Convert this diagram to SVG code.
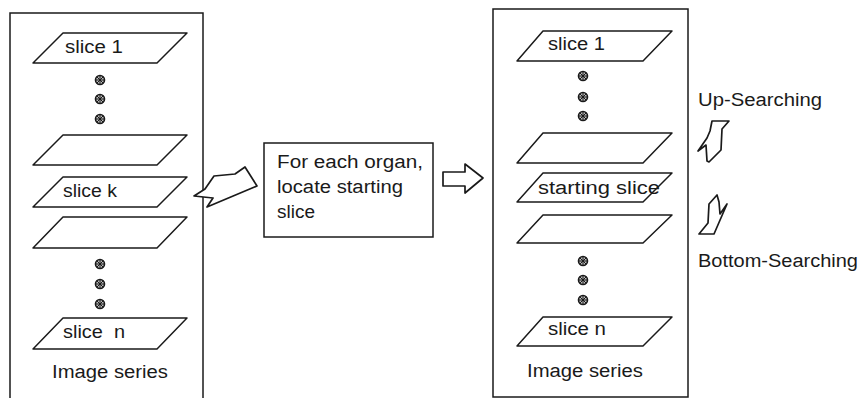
<svg xmlns="http://www.w3.org/2000/svg" xmlns:xlink="http://www.w3.org/1999/xlink" width="866" height="398" viewBox="0 0 866 398">
<style>
.box{fill:none;stroke:#1a1a1a;stroke-width:1.5}
.sl{fill:#fff;stroke:#1a1a1a;stroke-width:1.5;stroke-linejoin:round}
.ar{fill:#fff;stroke:#1a1a1a;stroke-width:1.7;stroke-linejoin:round}
text{font-family:"Liberation Sans",Arial,sans-serif;font-size:18px;fill:#1a1a1a}
</style>
<defs>
<g id="dot">
<circle r="4.5" fill="#bbb" stroke="#1a1a1a" stroke-width="1.6"/>
<path d="M-3,-3L3,3M-3,3L3,-3M0,-4V4M-4,0H4" stroke="#1a1a1a" stroke-width="1"/>
</g>
</defs>
<rect width="866" height="398" fill="#fff"/>

<g id="left-series">
<rect class="box" x="10" y="13" width="193" height="400"/>
<polygon class="sl" points="63,33 187,33 157,63 33,63"/>
<text x="65" y="53" textLength="58" lengthAdjust="spacingAndGlyphs">slice 1</text>
<use xlink:href="#dot" x="100" y="80"/>
<use xlink:href="#dot" x="100" y="99"/>
<use xlink:href="#dot" x="100" y="119"/>
<polygon class="sl" points="63,135 187,135 157,165 33,165"/>
<polygon class="sl" points="63,177 187,177 157,207 33,207"/>
<text x="63" y="197" textLength="54" lengthAdjust="spacingAndGlyphs">slice k</text>
<polygon class="sl" points="63,217 187,217 157,248 33,248"/>
<use xlink:href="#dot" x="100" y="264"/>
<use xlink:href="#dot" x="100" y="284"/>
<use xlink:href="#dot" x="100" y="304"/>
<polygon class="sl" points="63,318 187,318 157,349 33,349"/>
<text x="63" y="338" textLength="62" lengthAdjust="spacingAndGlyphs" xml:space="preserve">slice  n</text>
<text x="52" y="378" textLength="116" lengthAdjust="spacingAndGlyphs">Image series</text>
</g>

<g id="process">
<rect class="box" x="264" y="143" width="169" height="94"/>
<text x="277" y="168" textLength="146" lengthAdjust="spacingAndGlyphs">For each organ,</text>
<text x="277" y="193" textLength="126" lengthAdjust="spacingAndGlyphs">locate starting</text>
<text x="277" y="218" textLength="38" lengthAdjust="spacingAndGlyphs">slice</text>
</g>

<g id="right-series">
<rect class="box" x="493" y="9" width="195" height="388"/>
<polygon class="sl" points="543,31 672,31 643,61 517,61"/>
<text x="548" y="50" textLength="57" lengthAdjust="spacingAndGlyphs">slice 1</text>
<use xlink:href="#dot" x="583" y="76"/>
<use xlink:href="#dot" x="583" y="97"/>
<use xlink:href="#dot" x="583" y="116"/>
<polygon class="sl" points="543,133 672,133 643,163 517,163"/>
<polygon class="sl" points="543,173 672,173 643,202 517,202"/>
<text x="538" y="194" textLength="122" lengthAdjust="spacingAndGlyphs">starting slice</text>
<polygon class="sl" points="543,215 672,215 643,243 517,243"/>
<use xlink:href="#dot" x="583" y="261"/>
<use xlink:href="#dot" x="583" y="280"/>
<use xlink:href="#dot" x="583" y="300"/>
<polygon class="sl" points="543,317 672,317 643,346 517,346"/>
<text x="548" y="335" textLength="58" lengthAdjust="spacingAndGlyphs">slice n</text>
<text x="527" y="377" textLength="116" lengthAdjust="spacingAndGlyphs">Image series</text>
</g>

<g id="up-searching">
<polygon class="ar" points="712,121 729,121 722,129 721,150 709,162 707,161 706,145 698,151 707,138 710,131"/>
<text x="698" y="106" textLength="124" lengthAdjust="spacingAndGlyphs">Up-Searching</text>
</g>

<g id="bottom-searching">
<polygon class="ar" points="717,195 719,202 720,214 727,204 714,234 699,234 708,223 709,204"/>
<text x="698" y="267" textLength="160" lengthAdjust="spacingAndGlyphs">Bottom-Searching</text>
</g>

<g id="connectors">
<polygon class="ar" points="194,196 205,189 214,176 235,174 245,167 257,186 207,207 213,198"/>
<polygon class="ar" points="443,172 465,172 465,164 483,178 465,193 465,186 443,186"/>
</g>
</svg>
